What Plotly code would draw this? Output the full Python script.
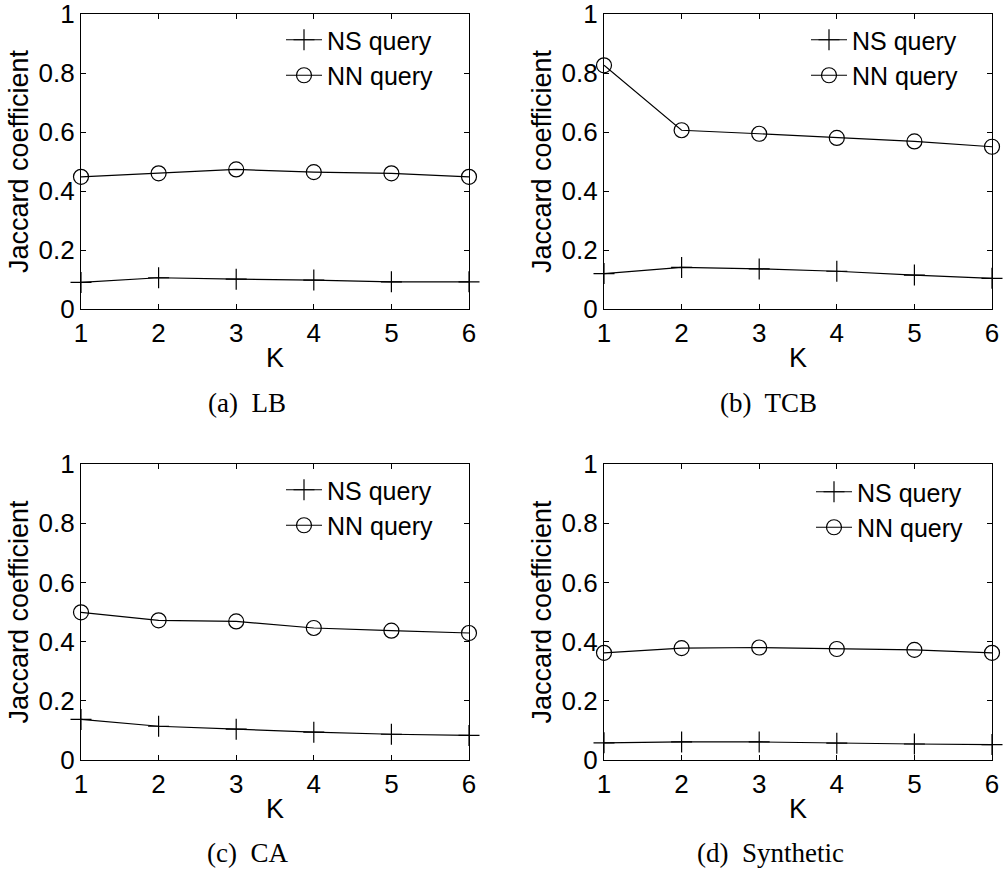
import plotly.graph_objects as go

K = [1, 2, 3, 4, 5, 6]
panels = ["(a)  LB", "(b)  TCB", "(c)  CA", "(d)  Synthetic"]

ns_lb = [0.090, 0.106, 0.101, 0.098, 0.092, 0.092]
nn_lb = [0.448, 0.460, 0.473, 0.464, 0.460, 0.448]
ns_tcb = [0.120, 0.141, 0.136, 0.128, 0.115, 0.104]
nn_tcb = [0.826, 0.606, 0.594, 0.580, 0.568, 0.550]
ns_ca = [0.137, 0.114, 0.104, 0.094, 0.087, 0.083]
nn_ca = [0.499, 0.472, 0.468, 0.446, 0.437, 0.429]
ns_syn = [0.058, 0.061, 0.061, 0.057, 0.054, 0.052]
nn_syn = [0.362, 0.378, 0.380, 0.375, 0.372, 0.362]

y_ticks = [0, 0.2, 0.4, 0.6, 0.8, 1]
y_ticktext = ["0", "0.2", "0.4", "0.6", "0.8", "1"]

W, H = 1003, 872
SANS = "Liberation Sans, Arial, sans-serif"
SERIF = "Liberation Serif, Times New Roman, serif"

# pixel boxes of the four plot areas: (left, right, top, bottom)
boxes = [(81, 469, 14, 309), (604, 992, 14, 309), (81, 469, 464, 760), (604, 992, 464, 760)]
legend_px = [(281, 17), (806, 17), (281, 467), (811, 469)]
caption_px = [(247, 403), (768, 403), (247, 853), (770, 853)]
data = [(ns_lb, nn_lb), (ns_tcb, nn_tcb), (ns_ca, nn_ca), (ns_syn, nn_syn)]

fig = go.Figure()
layout = dict(
    width=W, height=H, margin=dict(l=0, r=0, t=0, b=0, autoexpand=False),
    paper_bgcolor="white", plot_bgcolor="white",
    font=dict(family=SANS, color="black", size=26),
    annotations=[],
)

for i, ((l, r, t, b), (ns, nn)) in enumerate(zip(boxes, data)):
    n = "" if i == 0 else str(i + 1)
    lg = "legend" if i == 0 else "legend" + str(i + 1)
    fig.add_trace(go.Scatter(
        x=K, y=ns, mode="lines+markers", name="NS query",
        line=dict(color="black", width=1.2),
        marker=dict(symbol="cross-thin-open", size=15, color="black",
                    line=dict(color="black", width=1.2)),
        xaxis="x" + n, yaxis="y" + n, legend=lg, cliponaxis=False))
    fig.add_trace(go.Scatter(
        x=K, y=nn, mode="lines+markers", name="NN query",
        line=dict(color="black", width=1.2),
        marker=dict(symbol="circle-open", size=15, color="black",
                    line=dict(color="black", width=1.2)),
        xaxis="x" + n, yaxis="y" + n, legend=lg, cliponaxis=False))

    layout["xaxis" + n] = dict(
        domain=[l / W, r / W], anchor="y" + n, range=[1, 6], automargin=False,
        tickvals=K, ticks="inside", ticklen=5, tickcolor="black",
        showline=True, linecolor="black", linewidth=1.2, mirror="ticks",
        showgrid=False, zeroline=False, ticklabelstandoff=1,
        ticklabeloverflow="allow",
        tickfont=dict(size=26),
        title=dict(text="K", font=dict(size=27), standoff=0))
    layout["yaxis" + n] = dict(
        domain=[1 - b / H, 1 - t / H], anchor="x" + n, range=[0, 1], automargin=False,
        tickvals=y_ticks, ticktext=y_ticktext, ticks="inside", ticklen=5,
        tickcolor="black", showline=True, linecolor="black", linewidth=1.2,
        mirror="ticks", showgrid=False, zeroline=False,
        ticklabeloverflow="allow",
        tickfont=dict(size=26),
        title=dict(text="Jaccard coefficient", font=dict(size=27), standoff=2))
    lx, ly = legend_px[i]
    layout[lg] = dict(
        x=lx / W, y=1 - ly / H, xanchor="left", yanchor="top",
        bgcolor="rgba(0,0,0,0)", borderwidth=0,
        font=dict(size=25, family=SANS), itemwidth=36, tracegroupgap=0)
    cx, cy = caption_px[i]
    layout["annotations"].append(dict(
        text=panels[i], x=cx / W, y=1 - cy / H, xref="paper", yref="paper",
        showarrow=False, xanchor="center", yanchor="middle",
        font=dict(family=SERIF, size=27, color="black")))

fig.update_layout(**layout)
fig.write_html("out.html", config={"displayModeBar": False},
               post_script="document.body.style.margin='0';document.body.style.overflow='hidden';")
